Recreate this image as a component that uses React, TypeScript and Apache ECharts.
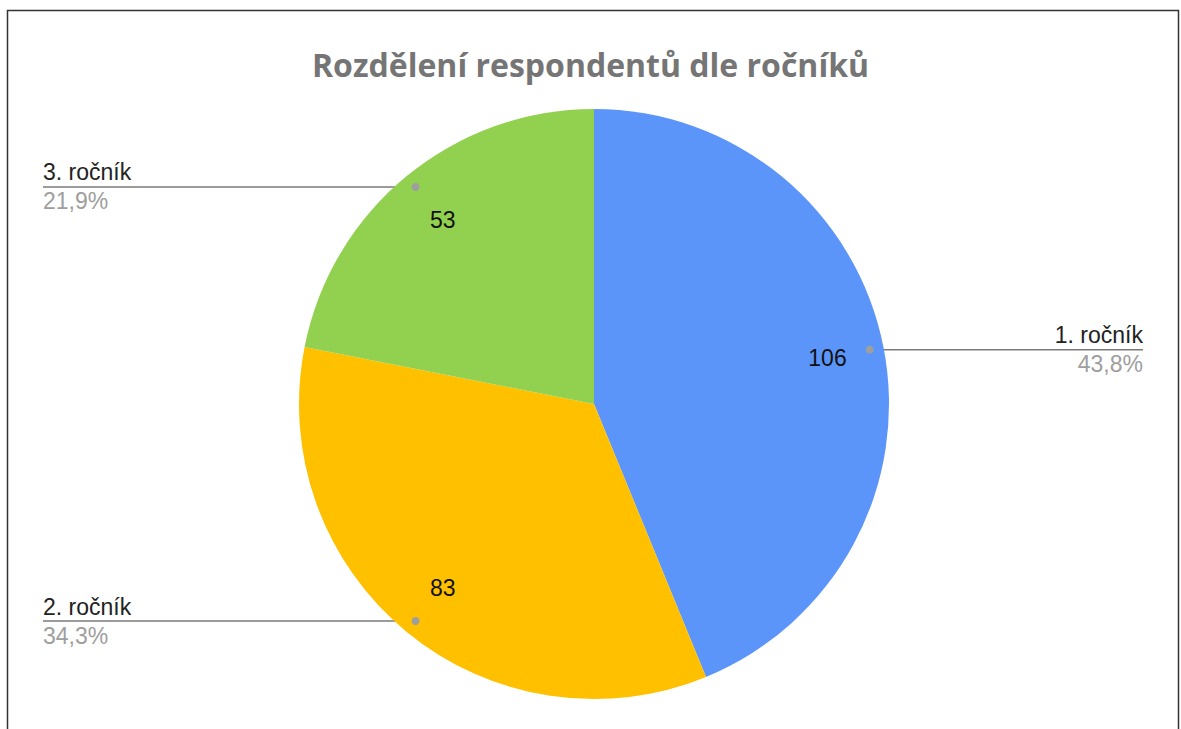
import React, { useEffect, useRef } from "react";
import * as echarts from "echarts";

const titleText = "Rozdělení respondentů dle ročníků";
const categories = ["1. ročník", "2. ročník", "3. ročník"];
const values = [106, 83, 53];
const colors = ["#5B95F9", "#FFC000", "#92D050"];

const W = 1181;
const H = 729;
const CX = 594;
const CY = 404;
const R = 295;
const DOT_R = 281;
const LEFT_EDGE = 43;
const RIGHT_EDGE = 1143;

const total = values.reduce((a, b) => a + b, 0);

function midDir(i: number) {
  let cum = 0;
  for (let k = 0; k < i; k++) cum += values[k];
  const f = (cum + values[i] / 2) / total;
  const t = f * Math.PI * 2;
  return { x: Math.sin(t), y: -Math.cos(t) };
}

function dotPoint(i: number) {
  const d = midDir(i);
  return { x: CX + DOT_R * d.x, y: CY + DOT_R * d.y };
}

function pct(v: number) {
  return ((v / total) * 100).toFixed(1).replace(".", ",") + "%";
}

export default function App() {
  const ref = useRef<HTMLDivElement>(null);
  useEffect(() => {
    if (!ref.current) return;
    const chart = echarts.init(ref.current, undefined, { renderer: "svg" });
    const data = categories.map((c, i) => ({
      name: c,
      value: values[i],
      itemStyle: { color: colors[i] },
    }));
    const dots = categories.map((_, i) => {
      const p = dotPoint(i);
      return {
        type: "circle",
        shape: { cx: p.x, cy: p.y, r: 4 },
        style: { fill: "#9e9e9e" },
        z: 100,
        silent: true,
      };
    });
    chart.setOption({
      animation: false,
      backgroundColor: "#ffffff",
      title: {
        text: titleText,
        left: "center",
        top: 43,
        textStyle: {
          fontFamily: "Open Sans",
          fontWeight: 700,
          fontSize: 32,
          color: "#757575",
        },
      },
      graphic: [
        {
          type: "rect",
          shape: { x: 7.5, y: 10.5, width: 1171, height: 740 },
          style: { fill: "none", stroke: "#333", lineWidth: 1.5 },
          silent: true,
          z: 0,
        },
        ...dots,
      ],
      series: [
        {
          type: "pie",
          center: [CX, CY],
          radius: [0, R],
          startAngle: 90,
          clockwise: true,
          silent: true,
          itemStyle: { borderWidth: 0 },
          data,
          label: {
            show: true,
            position: "outside",
            formatter: (p: any) => `{n|${p.name}}\n{p|${pct(p.value)}}`,
            rich: {
              n: {
                fontFamily: "Liberation Sans",
                fontSize: 23,
                color: "#222222",
                lineHeight: 29,
              },
              p: {
                fontFamily: "Liberation Sans",
                fontSize: 23,
                color: "#9e9e9e",
                lineHeight: 29,
              },
            },
          },
          labelLine: {
            show: true,
            length: 0,
            length2: 10,
            lineStyle: { color: "#7a7a7a", width: 1.5 },
          },
          labelLayout: (params: any) => {
            const i = params.dataIndex;
            const p = dotPoint(i);
            const right = p.x > CX;
            const xe = right ? RIGHT_EDGE : LEFT_EDGE;
            return {
              x: xe,
              y: p.y,
              align: right ? "right" : "left",
              verticalAlign: "middle",
              labelLinePoints: [
                [p.x, p.y],
                [p.x, p.y],
                [xe, p.y],
              ],
            };
          },
        },
        {
          type: "pie",
          center: [CX, CY],
          radius: [175, R],
          startAngle: 90,
          clockwise: true,
          silent: true,
          itemStyle: { color: "rgba(0,0,0,0)", borderWidth: 0 },
          data: categories.map((c, i) => ({ name: c, value: values[i] })),
          label: {
            show: true,
            position: "inside",
            formatter: "{c}",
            fontFamily: "Liberation Sans",
            fontSize: 23,
            color: "#111111",
          },
          labelLine: { show: false },
        },
      ],
    });
    return () => chart.dispose();
  }, []);
  return (
    <div
      ref={ref}
      style={{ position: "fixed", left: 0, top: 0, width: W, height: H }}
    />
  );
}
